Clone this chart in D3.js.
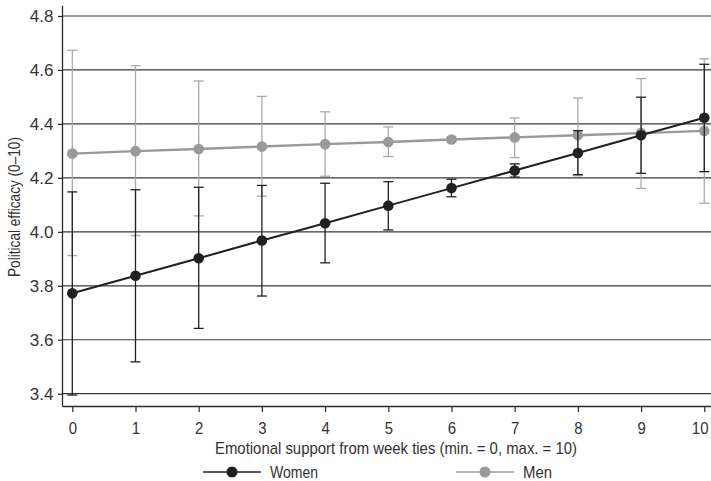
<!DOCTYPE html>
<html><head><meta charset="utf-8">
<script src="https://cdn.jsdelivr.net/npm/d3@7"></script>
<style>body{margin:0;background:#fff}svg{display:block}text{font-family:"Liberation Sans",Arial,sans-serif;fill:#333}</style>
</head><body>
<svg id="c" width="711" height="481"></svg>
<script>
const xValues = [0,1,2,3,4,5,6,7,8,9,10];
const womenMean  = [3.772,3.837,3.902,3.968,4.032,4.097,4.162,4.227,4.292,4.358,4.423];
const womenUpper = [4.148,4.156,4.165,4.172,4.180,4.186,4.195,4.252,4.375,4.499,4.621];
const womenLower = [3.395,3.518,3.642,3.762,3.885,4.007,4.130,4.203,4.212,4.217,4.223];
const menMean  = [4.290,4.299,4.307,4.316,4.325,4.333,4.342,4.350,4.358,4.366,4.374];
const menUpper = [4.673,4.616,4.559,4.502,4.445,4.389,4.352,4.422,4.496,4.568,4.641];
const menLower = [3.912,3.986,4.059,4.132,4.206,4.279,4.332,4.275,4.208,4.161,4.106];
const yTicks = [3.4,3.6,3.8,4.0,4.2,4.4,4.6,4.8];
const xTitle = "Emotional support from week ties (min. = 0, max. = 10)";
const yTitle = "Political efficacy (0\u201310)";
const seriesNames = ["Women","Men"];

const W = 711;
const svg = d3.select("#c");
const x = d3.scaleLinear().domain([-0.163, 10.407]).range([62, 730]);
const y = d3.scaleLinear().domain([3.3544, 4.84]).range([406, 5.2]);
const womenCol = "#231f20", menCol = "#999999", menErr = "#a9a9a9";

// gridlines
svg.append("g").selectAll("line").data(yTicks).join("line")
  .attr("x1", x.range()[0]).attr("x2", W)
  .attr("y1", d => y(d)).attr("y2", d => y(d))
  .attr("stroke", "#3a3a3a").attr("stroke-width", 1.2);

// axes
const yAxis = svg.append("g").attr("transform", `translate(${x.range()[0]},0)`)
  .call(d3.axisLeft(y).tickValues(yTicks).tickSize(4).tickSizeOuter(0).tickFormat(d3.format(".1f")));
const xAxis = svg.append("g").attr("transform", `translate(0,${y.range()[0]})`)
  .call(d3.axisBottom(x).tickValues(xValues).tickSize(6).tickSizeOuter(0).tickFormat(d3.format("d")));
[xAxis, yAxis].forEach(a => {
  a.select(".domain").attr("stroke", "#2a2a2a").attr("stroke-width", 1.3);
  a.selectAll(".tick line").attr("stroke", "#2a2a2a").attr("stroke-width", 1.2);
  a.selectAll("text").attr("font-size", 17).attr("font-family", null).attr("fill", "#333");
});
xAxis.selectAll(".tick").each(function(d) {
  const t = d3.select(this).select("text").attr("y", 16);
  const len = t.node().getComputedTextLength() * 0.88;
  t.attr("textLength", len).attr("lengthAdjust", "spacingAndGlyphs");
  if (x(d) + len / 2 > W - 3) t.attr("text-anchor", "end").attr("x", W - 3 - x(d));
});
yAxis.selectAll("text").attr("x", -8.5);

function errBars(lower, upper, color, w) {
  const g = svg.append("g").attr("stroke", color).attr("stroke-width", w).attr("fill", "none");
  xValues.forEach((v, i) => {
    g.append("line").attr("x1", x(v)).attr("x2", x(v)).attr("y1", y(lower[i])).attr("y2", y(upper[i]));
    [lower[i], upper[i]].forEach(b => g.append("line")
      .attr("x1", x(v) - 5).attr("x2", x(v) + 5).attr("y1", y(b)).attr("y2", y(b)));
  });
}
function series(mean, color, lw) {
  svg.append("path").datum(xValues.map((v, i) => [v, mean[i]]))
    .attr("fill", "none").attr("stroke", color).attr("stroke-width", lw)
    .attr("d", d3.line().x(d => x(d[0])).y(d => y(d[1])));
  svg.append("g").selectAll("circle").data(xValues).join("circle")
    .attr("cx", d => x(d)).attr("cy", (d, i) => y(mean[i])).attr("r", 5.3).attr("fill", color);
}
errBars(menLower, menUpper, menErr, 1.3);
series(menMean, menCol, 2.4);
errBars(womenLower, womenUpper, womenCol, 1.3);
series(womenMean, womenCol, 2);

// titles
svg.append("text").attr("x", 396).attr("y", 454).attr("text-anchor", "middle")
  .attr("font-size", 17).attr("textLength", 362).attr("lengthAdjust", "spacingAndGlyphs").text(xTitle);
svg.append("text").attr("transform", "translate(19.5,207) rotate(-90)").attr("text-anchor", "middle")
  .attr("font-size", 17).attr("textLength", 140).attr("lengthAdjust", "spacingAndGlyphs").text(yTitle);

// legend
const legend = [
  {name: seriesNames[0], color: womenCol, x0: 203, w: 48},
  {name: seriesNames[1], color: menCol, x0: 456, w: 29}
];
legend.forEach(l => {
  const g = svg.append("g");
  g.append("line").attr("x1", l.x0).attr("x2", l.x0 + 58).attr("y1", 472).attr("y2", 472)
    .attr("stroke", l.color).attr("stroke-width", 1.6);
  g.append("circle").attr("cx", l.x0 + 29).attr("cy", 472).attr("r", 5.5).attr("fill", l.color);
  g.append("text").attr("x", l.x0 + 67).attr("y", 477.5).attr("font-size", 17)
    .attr("textLength", l.w).attr("lengthAdjust", "spacingAndGlyphs").text(l.name);
});
</script>
</body></html>
